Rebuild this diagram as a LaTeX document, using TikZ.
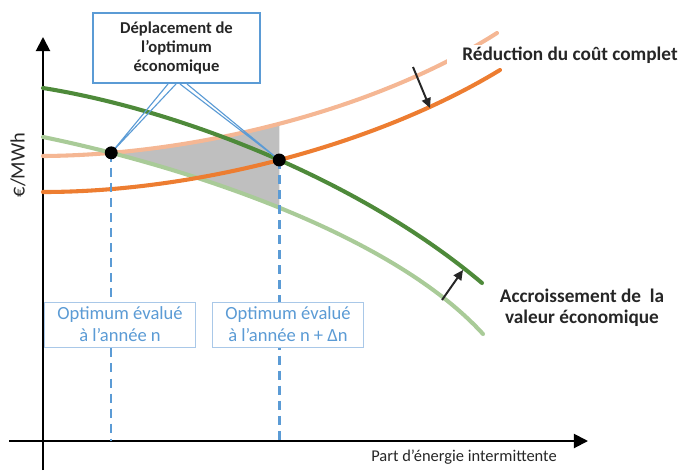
\documentclass[tikz,border=0pt]{standalone}
\usepackage{fontspec}
\setmainfont{Carlito}
\usepackage{tikz}
\usetikzlibrary{arrows.meta,calc,positioning,intersections}
\definecolor{costold}{HTML}{F5B794}
\definecolor{costnew}{HTML}{ED7D31}
\definecolor{valold}{HTML}{A9CB98}
\definecolor{valnew}{HTML}{4E8A3A}
\definecolor{optblue}{HTML}{5B9BD5}
\definecolor{optframe}{HTML}{A9C8E8}
\definecolor{gainzone}{HTML}{BFBFBF}
\definecolor{ink}{HTML}{262626}
% the four curves, in pixel units
\newcommand{\oldcost}{(43,156) .. controls (200,155) and (380,108) .. (497,33)}
\newcommand{\oldvalue}{(43,137) .. controls (180,165) and (390,232) .. (483,334)}
\newcommand{\newcost}{(43,192) .. controls (200,192) and (380,143) .. (500,70)}
\newcommand{\newvalue}{(43,88) .. controls (180,110) and (360,180) .. (482,283)}

\begin{document}
\begin{tikzpicture}[x=0.025cm, y=-0.025cm,
    curve/.style={line width=2.9pt, line cap=round},
    axis/.style={line width=1.4pt, -{Triangle[length=10pt,width=10pt]}},
    nudge/.style={line width=1.4pt, ink, -{Triangle[length=7pt,width=6.5pt]}},
    optdot/.style={circle, fill=black, inner sep=0pt, minimum size=9.2pt},
    guide/.style={optblue, line width=1.8pt, dash pattern=on 6.4pt off 4.3pt},
    optbox/.style={draw=optframe, line width=0.7pt, fill=white, text=optblue, align=center,
      minimum width=3.75cm, minimum height=1.125cm, inner sep=0pt,
      font=\fontsize{13.2}{15.6}\selectfont},
    callout/.style={draw=optblue, line width=1.4pt, fill=white, text=ink, align=center,
      minimum width=4.175cm, minimum height=1.75cm, inner sep=0pt,
      font=\bfseries\fontsize{11.8}{13.5}\selectfont},
    note/.style={text=ink, align=center, font=\bfseries\fontsize{13.7}{15}\selectfont}]
  \useasboundingbox (0,0) rectangle (680,470);

  % axes
  \coordinate (xo) at (43,441);
  \coordinate (yt) at (43,37);
  \draw[axis] (43,470) -- (yt);
  \draw[axis] (9,441) -- (588,441);
  \node[ink, font=\fontsize{11.7}{14}\selectfont] (xlab) at (464,457) {Part d’énergie intermittente};
  \node[ink, rotate=90, font=\fontsize{14.5}{16}\selectfont] (ylab) at (18,165) {€/MWh};

  % where the curves cross
  \path[name path=oc] \oldcost;
  \path[name path=ov] \oldvalue;
  \path[name path=nc] \newcost;
  \path[name path=nv] \newvalue;
  \path[name intersections={of=oc and ov, by=x1}];
  \path[name intersections={of=nc and nv, by=x2}];

  % zone between the two optima
  \begin{scope}
    \clip (x1 |- yt) rectangle (x2 |- xo);
    \fill[gainzone] \oldcost -- (483,334) .. controls (390,232) and (180,165) .. (43,137) -- cycle;
  \end{scope}

  % year n
  \draw[curve, costold] \oldcost;
  \draw[curve, valold] \oldvalue;
  \node[note, fill=white, inner xsep=10.7pt, inner ysep=1pt] (reduc) at (570,55) {Réduction du coût complet};

  % year n + dn
  \draw[curve, costnew] \newcost;
  \draw[curve, valnew] \newvalue;
  \node[note] (accr) at (582,308) {Accroissement de\ \ la\\valeur économique};

  \coordinate (r1) at (413,67);
  \coordinate (r2) at (430,108);
  \draw[nudge] (r1) -- (r2);
  \coordinate (a1) at (442,300);
  \coordinate (a2) at (463,270);
  \draw[nudge] (a1) -- (a2);

  % the two optima
  \foreach \pt/\bx/\when in {x1/120/{à l’année n},
                             x2/288/{à l’année n + Δn}} {
    \draw[guide] (\pt) -- (\pt |- xo);
    \node[optbox] (box-\pt) at (\bx,324.5) {Optimum évalué\\\when};
  }

  \node[callout] (depl) at (176.5,48) {Déplacement de\\l’optimum\\économique};
  \draw[optblue, line width=0.8pt] ($(depl.south)+(-8.5,0)$) -- (x1) -- ($(depl.south)+(-0.5,0)$);
  \draw[optblue, line width=0.8pt] ($(depl.south)+(3.5,0)$) -- (x2) -- ($(depl.south)+(10.5,0)$);
  \node[optdot] (opt1) at (x1) {};
  \node[optdot] (opt2) at (x2) {};
\end{tikzpicture}
\end{document}
